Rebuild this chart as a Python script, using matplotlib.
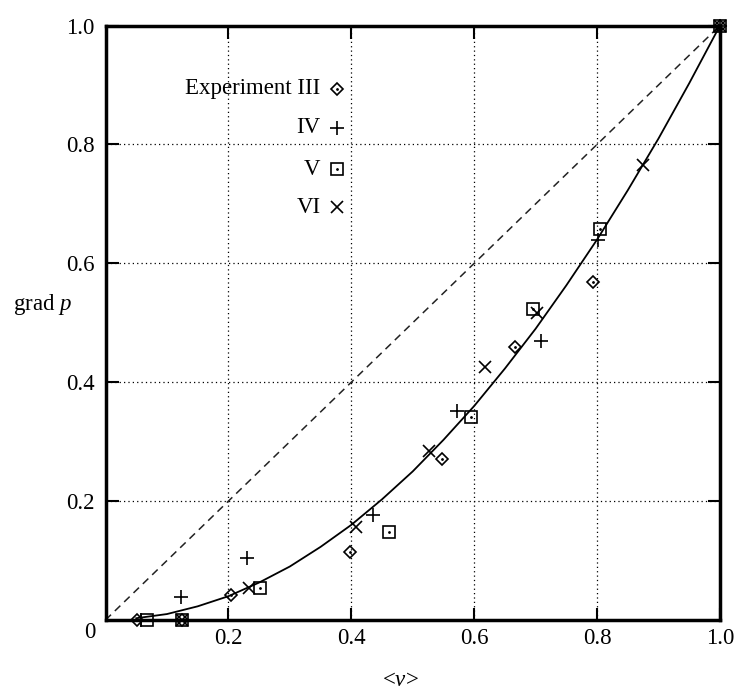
import matplotlib
matplotlib.use("Agg")
import matplotlib.pyplot as plt

# ---- data ----
exp3_x = [0.052, 0.125, 0.205, 0.398, 0.548, 0.667, 0.793, 1.0]
exp3_y = [0.0, 0.0, 0.042, 0.115, 0.270, 0.459, 0.568, 1.0]
exp4_x = [0.058, 0.123, 0.231, 0.435, 0.572, 0.709, 0.801, 1.0]
exp4_y = [0.0, 0.039, 0.104, 0.176, 0.351, 0.469, 0.640, 1.0]
exp5_x = [0.068, 0.125, 0.251, 0.462, 0.594, 0.696, 0.804, 1.0]
exp5_y = [0.0, 0.0, 0.054, 0.148, 0.341, 0.523, 0.658, 1.0]
exp6_x = [0.125, 0.234, 0.408, 0.527, 0.617, 0.703, 0.875, 1.0]
exp6_y = [0.0, 0.054, 0.156, 0.284, 0.425, 0.517, 0.765, 1.0]

curve_x = [0.05, 0.10, 0.15, 0.20, 0.25, 0.30, 0.35, 0.40, 0.45, 0.50,
           0.55, 0.60, 0.65, 0.70, 0.75, 0.80, 0.85, 0.90, 0.95, 1.00]
curve_y = [0.003, 0.010, 0.023, 0.040, 0.063, 0.090, 0.123, 0.160, 0.203, 0.250,
           0.303, 0.360, 0.423, 0.490, 0.563, 0.640, 0.723, 0.810, 0.903, 1.000]

diag_x = [0.0, 1.0]
diag_y = [0.0, 1.0]

ticks = [0.2, 0.4, 0.6, 0.8, 1.0]
tick_labels = ["0.2", "0.4", "0.6", "0.8", "1.0"]
legend_labels = ["Experiment III", "IV", "V", "VI"]

plt.rcParams['font.family'] = ['Liberation Serif', 'DejaVu Serif']
plt.rcParams['mathtext.fontset'] = 'custom'
plt.rcParams['mathtext.rm'] = 'Liberation Serif'
plt.rcParams['mathtext.it'] = 'Liberation Serif:italic'

fig = plt.figure(figsize=(7.36, 6.89), dpi=100)
ax = fig.add_axes([105.5/736, 1 - 620/689, (720-105.5)/736, (620-25.5)/689])
ax.set_xlim(0, 1)
ax.set_ylim(0, 1)

ax.grid(True, color='black', linestyle=(0, (1, 2.5)), linewidth=0.9)
ax.set_axisbelow(True)

ax.plot(diag_x, diag_y, color='#222222', linestyle=(0, (5, 3.5)), linewidth=1.1, zorder=2)
ax.plot(curve_x, curve_y, color='black', linewidth=1.3, zorder=3)

mk = dict(color='black', linestyle='none', zorder=4, clip_on=False)
ax.plot(exp3_x, exp3_y, marker='D', ms=6, mfc='none', mew=1.2, **mk)
ax.plot(exp3_x, exp3_y, marker='.', ms=2, **mk)
ax.plot(exp4_x, exp4_y, marker='+', ms=10, mew=1.2, **mk)
ax.plot(exp5_x, exp5_y, marker='s', ms=9, mfc='none', mew=1.2, **mk)
ax.plot(exp5_x, exp5_y, marker='.', ms=2, **mk)
ax.plot(exp6_x, exp6_y, marker='x', ms=9, mew=1.2, **mk)

# legend (manual, right-aligned text with markers after it)
leg_y = [0.894, 0.828, 0.758, 0.694]
leg_markers = [('D', 6, 'none'), ('+', 10, None), ('s', 9, 'none'), ('x', 9, None)]
for lbl, yy, (m, s, fc) in zip(legend_labels, leg_y, leg_markers):
    ax.text(0.350, yy, lbl, ha='right', va='center', fontsize=16.5,
            transform=ax.transAxes, zorder=5)
    kw = dict(marker=m, ms=s, mew=1.2, color='black', linestyle='none',
              transform=ax.transAxes, zorder=5)
    if fc is not None:
        kw['mfc'] = fc
    ax.plot([0.376], [yy], **kw)
    if m in ('D', 's'):
        ax.plot([0.376], [yy], marker='.', ms=2, color='black',
                transform=ax.transAxes, zorder=5)

ax.set_xticks(ticks)
ax.set_xticklabels(tick_labels)
ax.set_yticks(ticks)
ax.set_yticklabels(tick_labels)
ax.tick_params(direction='in', length=9, width=1.5, top=True, right=True,
               labelsize=16.5, color='black')
ax.tick_params(axis='x', pad=6)
ax.tick_params(axis='y', pad=8)
for sp in ax.spines.values():
    sp.set_linewidth(2.5)

fig.text(90/736, 1 - 632/689, "0", ha='center', va='center', fontsize=16.5)
fig.text(400/736, 1 - 680/689, r"<$\nu$>", ha='center', va='center', fontsize=16.5)
fig.text(13/736, 1 - 305/689, r"grad $p$", ha='left', va='center', fontsize=16.5)

fig.savefig("out.png", dpi=100)
